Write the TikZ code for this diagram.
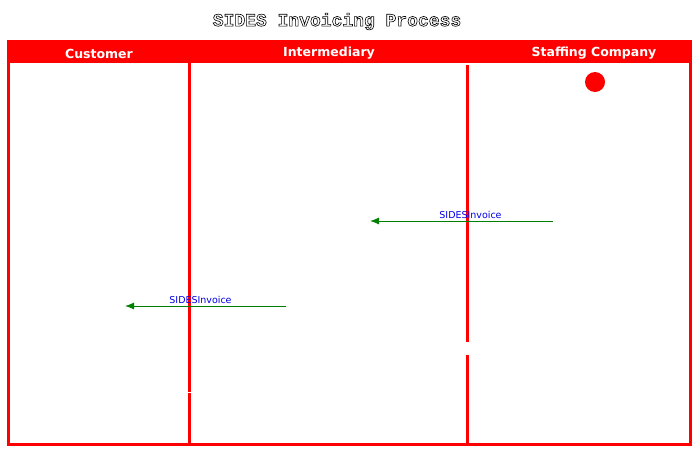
\documentclass[tikz,border=0pt]{standalone}
\usepackage{fontspec}
\setsansfont{DejaVu Sans}
\setmonofont{Liberation Mono}
\usetikzlibrary{arrows.meta}
\definecolor{lanered}{RGB}{255,0,0}
\definecolor{msggreen}{RGB}{0,128,0}
\definecolor{msgblue}{RGB}{0,0,230}
\newcommand{\outlinetext}[1]{\color{white}\special{pdf:literal direct 0 G 0.6 w 2 Tr}#1\special{pdf:literal direct 0 Tr}}
\begin{document}
\begin{tikzpicture}[x=1pt, y=-1pt,
  lane/.style = {draw=lanered, line width=3pt},
  head/.style = {text=white, font=\sffamily\bfseries\fontsize{12.5}{13}\selectfont},
  msg/.style = {draw=msggreen, line width=1pt, -{Latex[length=9pt,width=7pt]}},
  msglabel/.style = {text=msgblue, font=\sffamily\fontsize{9.5}{10}\selectfont, above, inner sep=2pt}]
\useasboundingbox (0,0) rectangle (696,450);
% title
\node (title) at (337,21.5) {\ttfamily\bfseries\fontsize{18}{19}\selectfont\outlinetext{SIDES Invoicing Process}};
% frame and header band
\fill [lanered] (7,40) rectangle (691,63);
\draw [lane] (8,63) -- (8,444) -- (690,444) -- (690,40);
\draw [lane] (189,63) -- (189,391.5);
\draw [lane] (189,393) -- (189,444);
\draw [lane] (467,65) -- (467,342);
\draw [lane] (467,355) -- (467,444);
% lane names
\node [head] (customer) at (99,53.5) {Customer};
\node [head] (intermediary) at (329,53.5) {Intermediary};
\node [head] (staffing) at (594,53.5) {Staffing Company};
\fill [lanered] (595,82) circle (10) coordinate (start);
% messages
\coordinate (m1from) at (553,221);
\coordinate (m1to) at (370,221);
\coordinate (m2from) at (286,306);
\coordinate (m2to) at (125,306);
\draw [msg] (m1from) -- node [msglabel, xshift=9pt] {SIDESInvoice} (m1to);
\draw [msg] (m2from) -- node [msglabel, xshift=-5pt] {SIDESInvoice} (m2to);
\end{tikzpicture}
\end{document}
